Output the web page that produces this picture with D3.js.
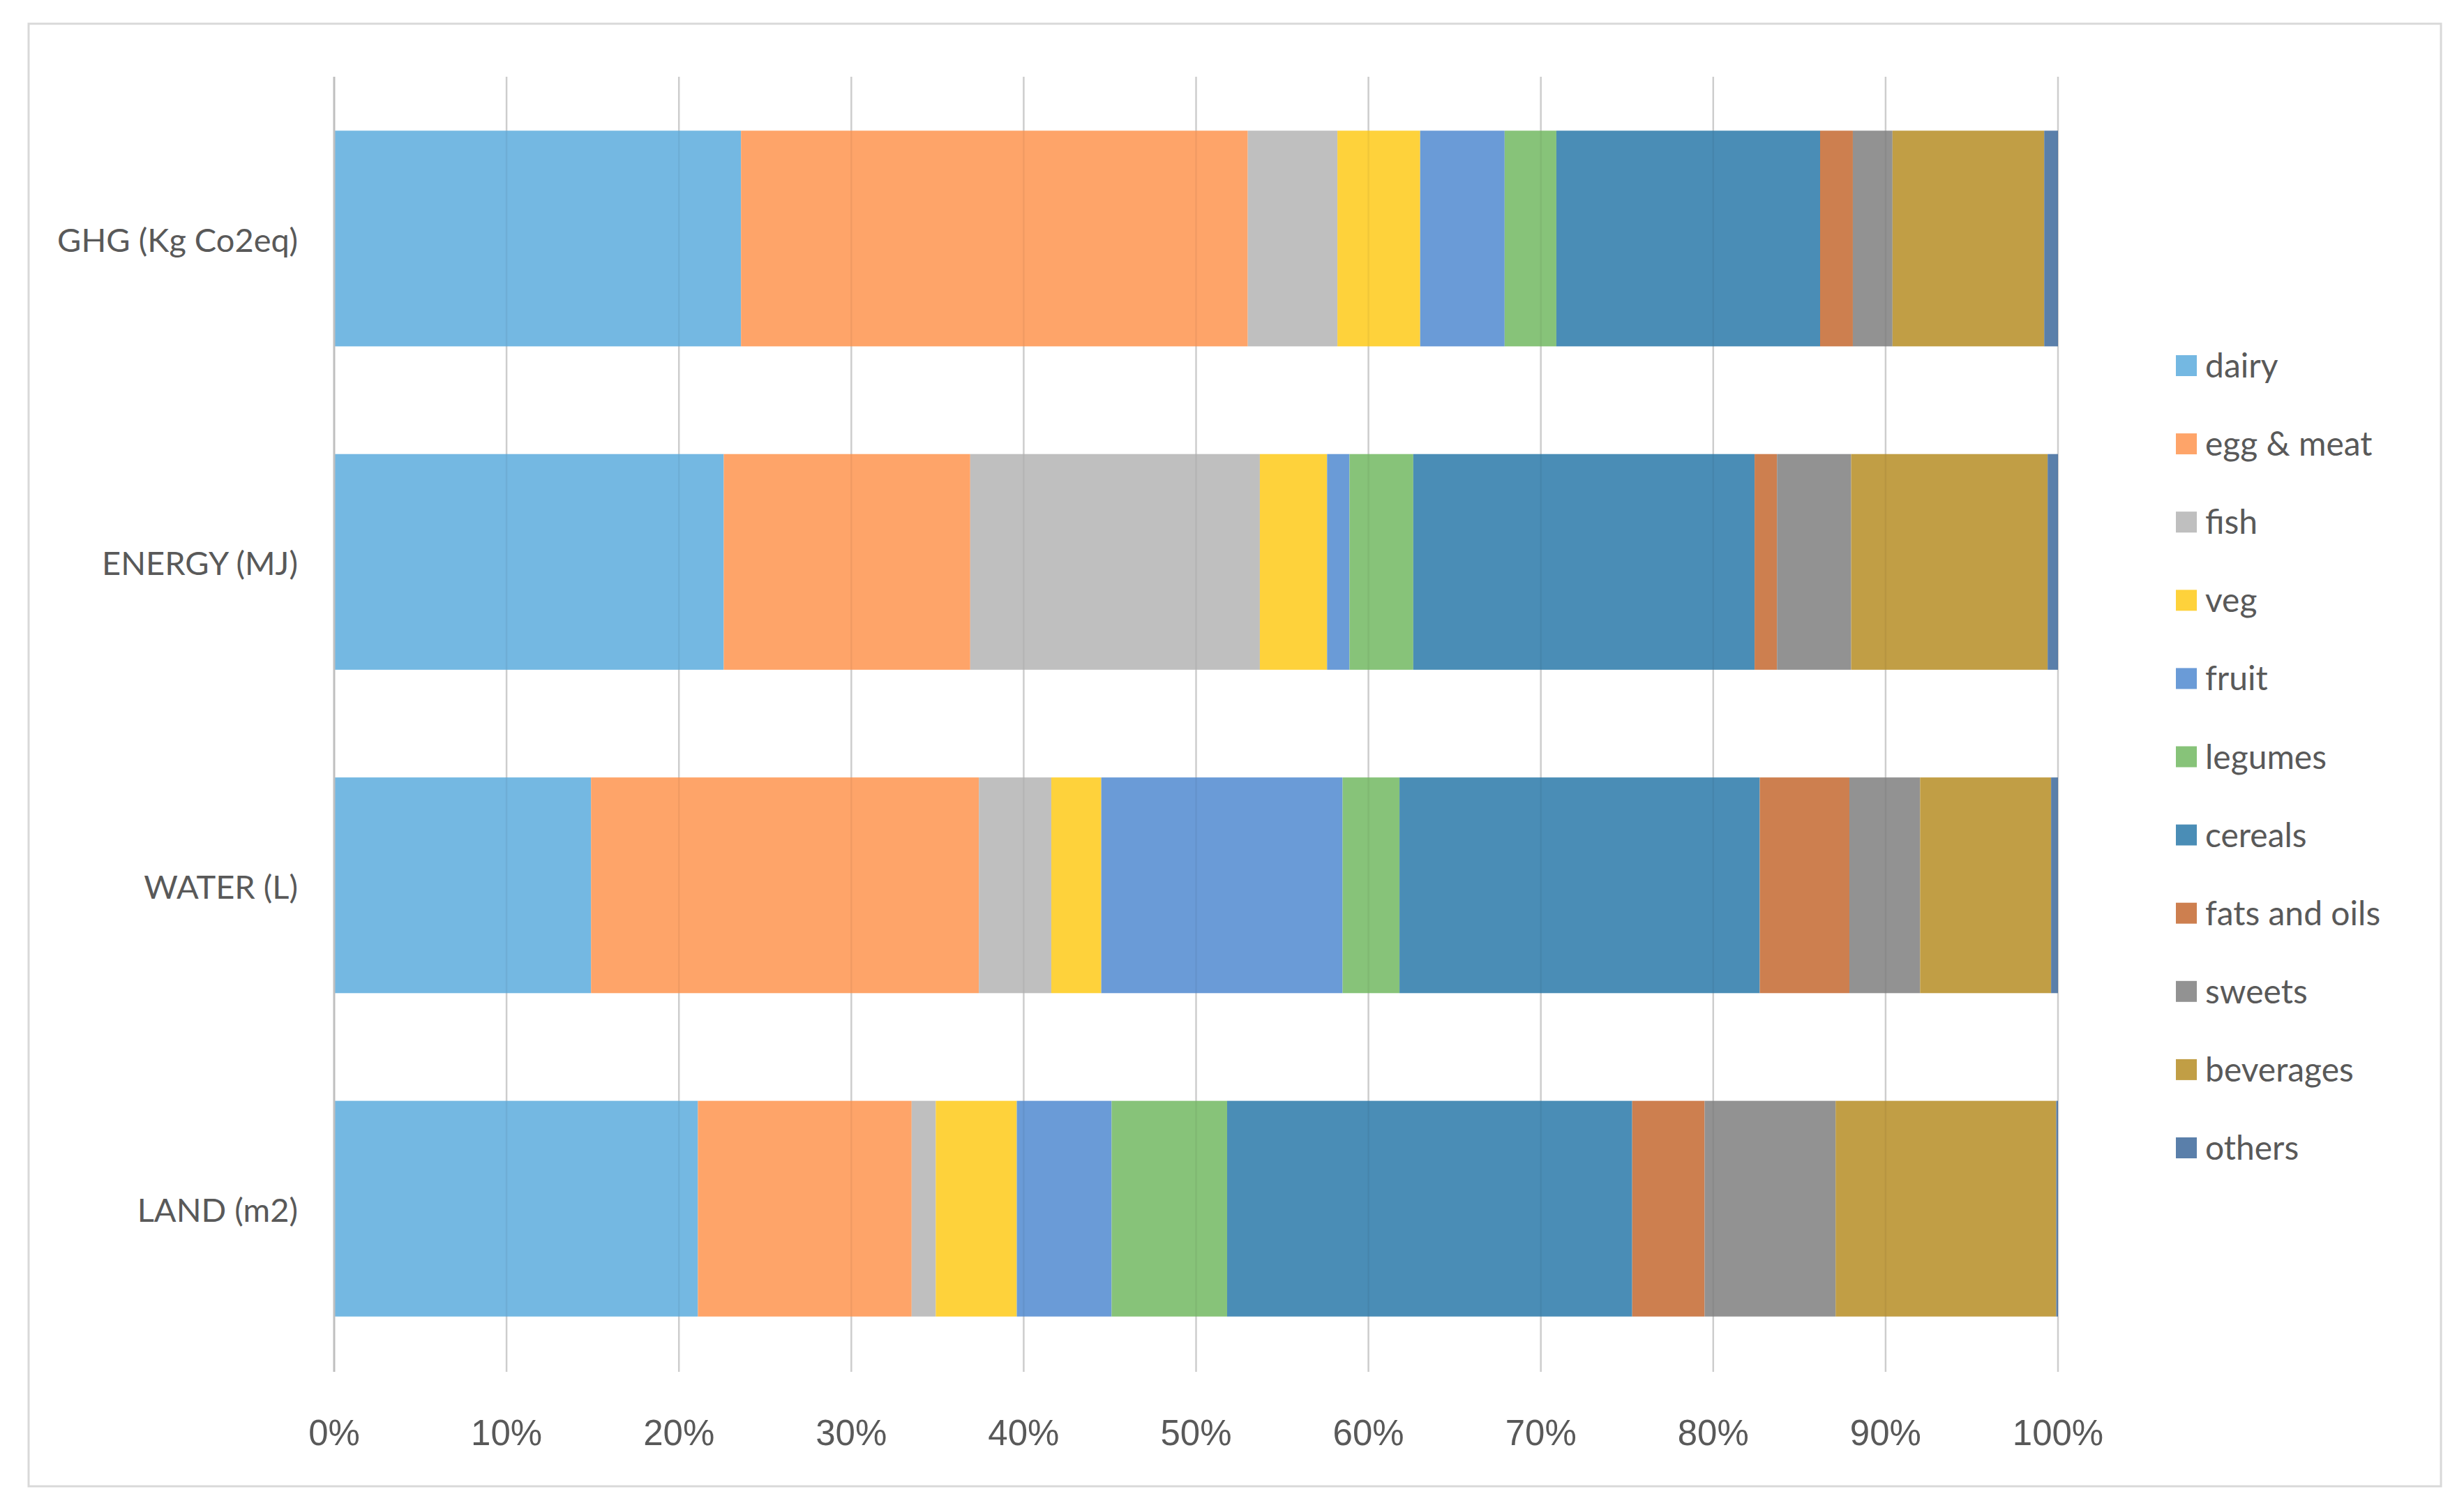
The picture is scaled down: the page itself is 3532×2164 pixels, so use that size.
<!DOCTYPE html>
<html>
<head>
<meta charset="utf-8">
<script src="https://cdn.jsdelivr.net/npm/d3@7"></script>
<style>
  body { margin: 0; background: #fff; }
  text { font-family: Lato, "Open Sans", sans-serif; fill: #595959; }
</style>
</head>
<body>
<div id="chart"></div>
<script>
// categories (top to bottom) and food groups
var categories = ["GHG (Kg Co2eq)", "ENERGY (MJ)", "WATER (L)", "LAND (m2)"];
var groups = ["dairy", "egg & meat", "fish", "veg", "fruit", "legumes", "cereals", "fats and oils", "sweets", "beverages", "others"];

// share of each group per category (%)
var dairy     = [23.6, 22.6, 14.9, 21.1];
var eggMeat   = [29.4, 14.3, 22.5, 12.4];
var fish      = [5.2, 16.8, 4.2, 1.4];
var veg       = [4.8, 3.9, 2.9, 4.7];
var fruit     = [4.9, 1.3, 14.0, 5.5];
var legumes   = [3.0, 3.7, 3.3, 6.7];
var cereals   = [15.3, 19.8, 20.9, 23.5];
var fatsOils  = [1.9, 1.3, 5.2, 4.2];
var sweets    = [2.3, 4.3, 4.1, 7.6];
var beverages = [8.8, 11.4, 7.6, 12.8];
var others    = [0.8, 0.6, 0.4, 0.1];

var seriesValues = [dairy, eggMeat, fish, veg, fruit, legumes, cereals, fatsOils, sweets, beverages, others];
var colors = ["#74b8e2", "#fea469", "#bfbfbf", "#fed23b", "#6a9bd7", "#87c379", "#4a8db6", "#cd7f4f", "#929292", "#c19e45", "#5a7faa"];

var tickValues = [0, 0.1, 0.2, 0.3, 0.4, 0.5, 0.6, 0.7, 0.8, 0.9, 1];
var tickLabels = ["0%", "10%", "20%", "30%", "40%", "50%", "60%", "70%", "80%", "90%", "100%"];

var W = 3532, H = 2164;

var svg = d3.select("#chart").append("svg")
  .attr("width", W)
  .attr("height", H);

// outer frame
svg.append("rect")
  .attr("x", 41).attr("y", 34)
  .attr("width", 3458).attr("height", 2096)
  .attr("fill", "#fff")
  .attr("stroke", "#d9d9d9")
  .attr("stroke-width", 3);

var x = d3.scaleLinear().domain([0, 1]).range([479, 2950]);
var y = d3.scaleBand().domain(categories).range([110, 1964])
  .paddingInner(0.333).paddingOuter(0.1667);

// build rows for the stack
var rows = categories.map(function (c, i) {
  var r = { cat: c };
  groups.forEach(function (g, j) { r[g] = seriesValues[j][i]; });
  return r;
});

var stacked = d3.stack().keys(groups).offset(d3.stackOffsetExpand)(rows);

// gridlines under the bars
svg.append("g").selectAll("line")
  .data(tickValues.slice(1))
  .enter().append("line")
  .attr("x1", function (d) { return x(d); })
  .attr("x2", function (d) { return x(d); })
  .attr("y1", 110).attr("y2", 1966)
  .attr("stroke", "#d9d9d9")
  .attr("stroke-width", 2.5);

// bars
svg.append("g").selectAll("g")
  .data(stacked)
  .enter().append("g")
  .attr("fill", function (d, i) { return colors[i]; })
  .selectAll("rect")
  .data(function (d) { return d; })
  .enter().append("rect")
  .attr("x", function (d) { return x(d[0]); })
  .attr("y", function (d) { return y(d.data.cat); })
  .attr("width", function (d) { return x(d[1]) - x(d[0]); })
  .attr("height", y.bandwidth());

// faint gridlines showing through the bars
svg.append("g").selectAll("line")
  .data(tickValues.slice(1))
  .enter().append("line")
  .attr("x1", function (d) { return x(d); })
  .attr("x2", function (d) { return x(d); })
  .attr("y1", 110).attr("y2", 1966)
  .attr("stroke", "#000")
  .attr("stroke-opacity", 0.05)
  .attr("stroke-width", 2.5);

// vertical axis line
svg.append("line")
  .attr("x1", x(0)).attr("x2", x(0))
  .attr("y1", 110).attr("y2", 1966)
  .attr("stroke", "#bfbfbf")
  .attr("stroke-width", 3);

// category labels
svg.append("g").selectAll("text")
  .data(categories)
  .enter().append("text")
  .attr("x", 427)
  .attr("y", function (d) { return y(d) + y.bandwidth() / 2 + 19; })
  .attr("text-anchor", "end")
  .style("font-size", "47px")
  .text(function (d) { return d; });

// x tick labels
svg.append("g").selectAll("text")
  .data(tickValues)
  .enter().append("text")
  .attr("x", function (d) { return x(d); })
  .attr("y", 2071)
  .attr("text-anchor", "middle")
  .style("font-family", "'Liberation Sans', Arial, sans-serif")
  .style("font-size", "51px")
  .text(function (d, i) { return tickLabels[i]; });

// legend
var legend = svg.append("g").selectAll("g")
  .data(groups)
  .enter().append("g")
  .attr("transform", function (d, i) { return "translate(3119," + (524 + i * 112.1) + ")"; });

legend.append("rect")
  .attr("x", 0).attr("y", -15)
  .attr("width", 30).attr("height", 30)
  .attr("fill", function (d, i) { return colors[i]; });

legend.append("text")
  .attr("x", 42).attr("y", 17)
  .style("font-size", "48px")
  .text(function (d) { return d; });
</script>
</body>
</html>
